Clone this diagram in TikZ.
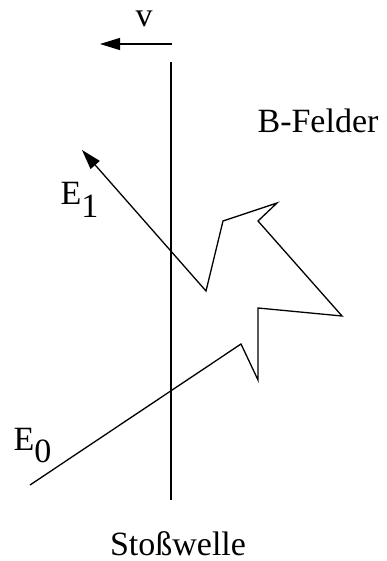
\documentclass[tikz,border=0pt]{standalone}
\usepackage{fontspec}
\setmainfont{Liberation Serif}
\usetikzlibrary{arrows.meta}
\newcommand{\lowidx}[1]{\raisebox{-6pt}{#1}}

\begin{document}
\begin{tikzpicture}[
  x=0.5pt, y=-0.5pt,
  line width=0.65pt,
  lbl/.style={inner sep=0pt, font=\fontsize{17}{20}\selectfont},
  arw/.style={-{Triangle[length=10pt,width=6pt]}},
]
  \useasboundingbox (0,0) rectangle (386,561);

  \coordinate (shtop) at (171,62);
  \coordinate (shbot) at (171,500);
  \draw (shtop) -- (shbot);
  \node[lbl, anchor=base] (welle) at (178,555) {Stoßwelle};

  \coordinate (vstart) at (172,44);
  \coordinate (vend) at (100,44);
  \draw[arw] (vstart) -- (vend);
  \node[lbl, anchor=base] (v) at (144,27) {v};

  \node[lbl, anchor=base] (felder) at (318,133) {B-Felder};

  \coordinate (p0) at (30,485);
  \coordinate (p1) at (241,344);
  \coordinate (p2) at (258,380);
  \coordinate (p3) at (258,308);
  \coordinate (p4) at (342,316);
  \coordinate (p5) at (258,221);
  \coordinate (p6) at (277,203);
  \coordinate (p7) at (223,221);
  \coordinate (p8) at (206,291);
  \coordinate (ptip) at (82,150);
  \draw[arw] (p0) -- (p1) -- (p2) -- (p3) -- (p4) -- (p5) -- (p6)
    -- (p7) -- (p8) -- (ptip);

  \node[lbl, anchor=base west] (eone) at (60,205) {E\lowidx{1}};
  \node[lbl, anchor=base west] (ezero) at (13,450) {E\lowidx{0}};
\end{tikzpicture}
\end{document}
